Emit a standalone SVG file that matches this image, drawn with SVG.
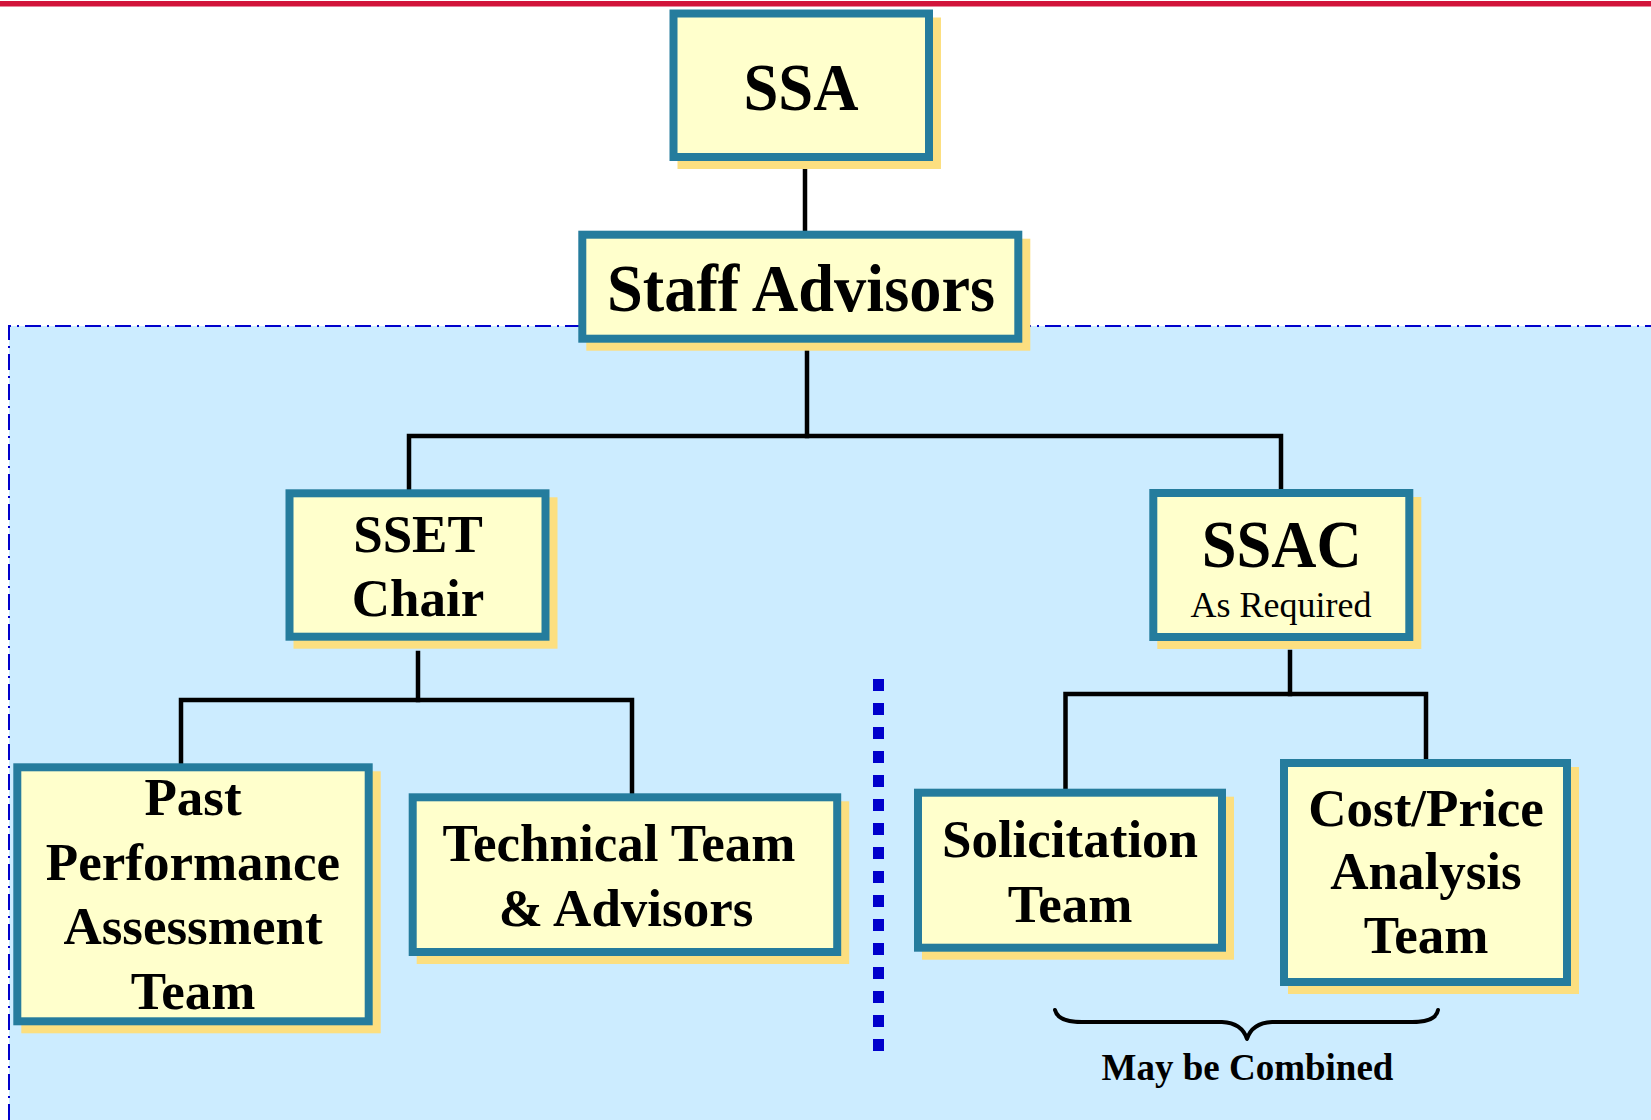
<svg xmlns="http://www.w3.org/2000/svg" width="1651" height="1120" viewBox="0 0 1651 1120">
<style>
.shadow{fill:#FCDF80}
.box{fill:#FFFFCC;stroke:#257C9D;stroke-width:8}
.t{font-family:"Liberation Serif","Times New Roman",serif;font-weight:bold;fill:#000;text-anchor:middle}
.big{font-size:68px}
.mid{font-size:53px}
.small{font-family:"Liberation Serif","Times New Roman",serif;font-size:36px;fill:#000;text-anchor:middle}
.conn{stroke:#000;stroke-width:4.5;fill:none;stroke-linecap:square}
</style>
<rect x="0" y="0" width="1651" height="1120" fill="#FFFFFF"/>
<rect x="0" y="1" width="1651" height="5.5" fill="#D2143A"/>
<rect x="9" y="326" width="1642" height="794" fill="#CCECFF"/>
<path d="M9,1120 V326 H1651" fill="none" stroke="#0000CC" stroke-width="2" stroke-dasharray="16 6 2 6"/>
<line x1="878.5" y1="679" x2="878.5" y2="1051" stroke="#0000CC" stroke-width="11" stroke-dasharray="12 12"/>

<g id="connectors">
<line class="conn" x1="805" y1="157" x2="805" y2="232"/>
<line class="conn" x1="807" y1="340" x2="807" y2="436"/>
<polyline class="conn" points="409,489 409,436 1281,436 1281,489"/>
<line class="conn" x1="418" y1="653" x2="418" y2="700"/>
<polyline class="conn" points="181,763 181,700 632,700 632,793"/>
<line class="conn" x1="1290" y1="652" x2="1290" y2="694"/>
<polyline class="conn" points="1065.5,789 1065.5,694 1426,694 1426,759"/>
</g>

<g id="SSA">
<rect class="shadow" x="677.5" y="17.5" width="263.5" height="151.5"/>
<rect class="box" x="673.5" y="13.5" width="255.5" height="143.5"/>
<text class="t big" x="801" y="110" textLength="115" lengthAdjust="spacingAndGlyphs">SSA</text>
</g>

<g id="StaffAdvisors">
<rect class="shadow" x="586.3" y="238.7" width="444" height="112"/>
<rect class="box" x="582.3" y="234.7" width="436" height="104"/>
<text class="t big" x="801" y="310.7" textLength="388" lengthAdjust="spacingAndGlyphs">Staff Advisors</text>
</g>

<g id="SSETChair">
<rect class="shadow" x="293.5" y="497.3" width="264" height="151.4"/>
<rect class="box" x="289.5" y="493.3" width="256" height="143.4"/>
<text class="t mid" x="418" y="552.3">SSET</text>
<text class="t mid" x="418" y="616">Chair</text>
</g>

<g id="SSAC">
<rect class="shadow" x="1157.3" y="497" width="264" height="152"/>
<rect class="box" x="1153.3" y="493" width="256" height="144"/>
<text class="t big" x="1281.7" y="566.7" textLength="160" lengthAdjust="spacingAndGlyphs">SSAC</text>
<text class="small" x="1281" y="616.7">As Required</text>
</g>

<g id="PastPerformance">
<rect class="shadow" x="21.3" y="771.3" width="359.4" height="262"/>
<rect class="box" x="17.3" y="767.3" width="351.4" height="254"/>
<text class="t mid" x="193" y="815">Past</text>
<text class="t mid" x="193" y="880">Performance</text>
<text class="t mid" x="193" y="944.3">Assessment</text>
<text class="t mid" x="193" y="1009">Team</text>
</g>

<g id="TechnicalTeam">
<rect class="shadow" x="416.7" y="801.3" width="432.5" height="162.7"/>
<rect class="box" x="412.7" y="797.3" width="424.5" height="154.7"/>
<text class="t mid" x="619" y="861">Technical Team</text>
<text class="t mid" x="626" y="926">&amp; Advisors</text>
</g>

<g id="SolicitationTeam">
<rect class="shadow" x="922" y="796.7" width="312" height="163"/>
<rect class="box" x="918" y="792.7" width="304" height="155"/>
<text class="t mid" x="1070" y="856.7">Solicitation</text>
<text class="t mid" x="1070" y="921.7">Team</text>
</g>

<g id="CostPriceTeam">
<rect class="shadow" x="1288" y="767" width="291" height="227"/>
<rect class="box" x="1284" y="763" width="283" height="219"/>
<text class="t mid" x="1426" y="826">Cost/Price</text>
<text class="t mid" x="1426" y="889.3">Analysis</text>
<text class="t mid" x="1426" y="953">Team</text>
</g>

<g id="MayBeCombined">
<path d="M1055,1010 Q1058,1022 1082,1022 L1222,1022 Q1242,1023 1247,1039 Q1252,1023 1272,1022 L1412,1022 Q1436,1022 1438,1010" fill="none" stroke="#000" stroke-width="4" stroke-linecap="round" stroke-linejoin="round"/>
<text class="t" style="font-size:37px" x="1247.5" y="1080">May be Combined</text>
</g>
</svg>
